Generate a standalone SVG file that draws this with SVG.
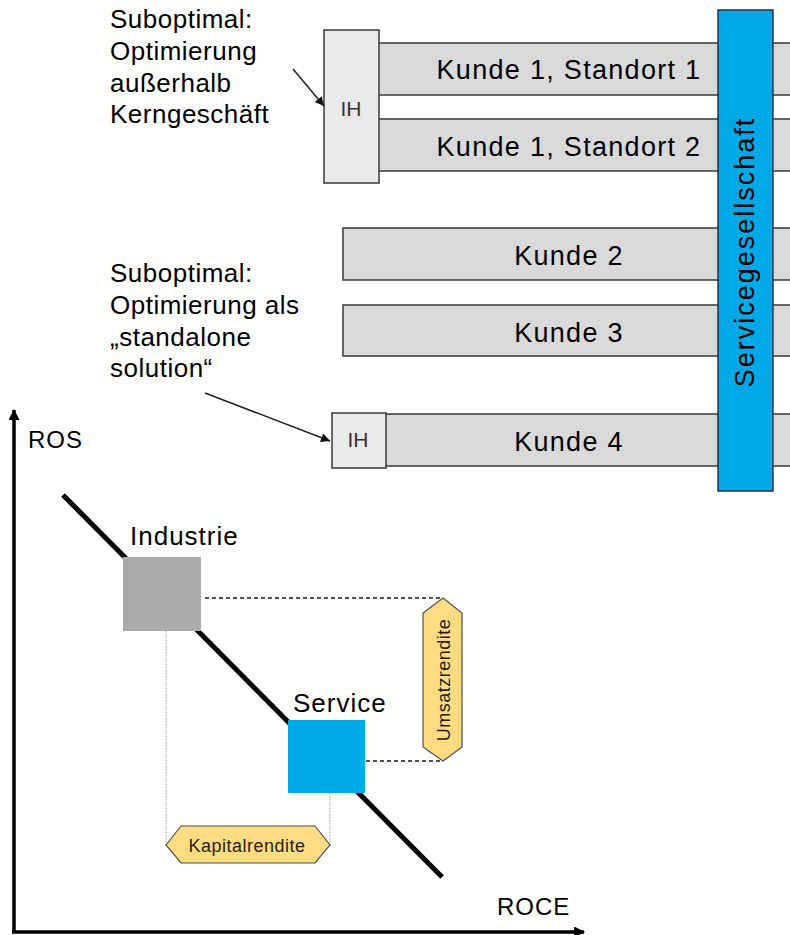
<svg xmlns="http://www.w3.org/2000/svg" width="790" height="935" viewBox="0 0 790 935">
  <style>
    text { font-family: "Liberation Sans", Arial, sans-serif; fill: #000; }
    .note { font-size: 26px; letter-spacing: 0.5px; }
    .bar { fill: #d9d9d9; stroke: #3a3a3a; stroke-width: 1.5; }
    .bar-label { font-size: 27px; letter-spacing: 1.3px; text-anchor: middle; }
    .ih { fill: #e8eaec; stroke: #3a3a3a; stroke-width: 1.5; }
    .ih-label { font-size: 21px; text-anchor: middle; fill: #3d3030; }
    .svc { fill: #00a8e6; stroke: #2a3338; stroke-width: 1.5; }
    .hex { fill: #ffdc82; stroke: #505050; stroke-width: 1.2; }
    .hex-label { font-size: 18px; letter-spacing: 0.5px; text-anchor: middle; fill: #2e1a12; }
    .lead { stroke: #222; stroke-width: 1.5; fill: none; }
    .axis { stroke: #000; stroke-width: 3.5; fill: none; }
    .trend { stroke: #000; stroke-width: 5; }
    .dash { stroke: #1a1a1a; stroke-width: 1.3; stroke-dasharray: 4 3; fill: none; }
    .dot { stroke: #9a9a9a; stroke-width: 1; stroke-dasharray: 1.5 1.5; fill: none; }
    .axis-label { font-size: 24px; letter-spacing: 1px; }
    .point-label { font-size: 26px; letter-spacing: 1px; }
  </style>
  <defs>
    <marker id="leadHead" viewBox="0 0 10 10" refX="10" refY="5" markerWidth="11" markerHeight="9" markerUnits="userSpaceOnUse" orient="auto">
      <path d="M0,0 L10,5 L0,10 Z" fill="#111"/>
    </marker>
    <marker id="axisHead" viewBox="0 0 10 10" refX="9" refY="5" markerWidth="13" markerHeight="11" markerUnits="userSpaceOnUse" orient="auto">
      <path d="M0,0 L10,5 L0,10 Z" fill="#000"/>
    </marker>
  </defs>

  <!-- customer bars -->
  <g id="kunde1-standort1">
    <rect class="bar" x="370" y="43" width="440" height="52"/>
    <text class="bar-label" x="569" y="79">Kunde 1, Standort 1</text>
  </g>
  <g id="kunde1-standort2">
    <rect class="bar" x="370" y="119" width="440" height="52"/>
    <text class="bar-label" x="569" y="156">Kunde 1, Standort 2</text>
  </g>
  <g id="kunde2">
    <rect class="bar" x="343" y="228" width="467" height="52"/>
    <text class="bar-label" x="569" y="265">Kunde 2</text>
  </g>
  <g id="kunde3">
    <rect class="bar" x="343" y="305" width="467" height="51"/>
    <text class="bar-label" x="569" y="342">Kunde 3</text>
  </g>
  <g id="kunde4">
    <rect class="bar" x="380" y="414" width="430" height="52"/>
    <text class="bar-label" x="569" y="451">Kunde 4</text>
  </g>

  <!-- in-house maintenance units -->
  <g id="ih1">
    <rect class="ih" x="324" y="30" width="55" height="153"/>
    <text class="ih-label" x="351" y="116">IH</text>
  </g>
  <g id="ih2">
    <rect class="ih" x="332" y="413" width="54" height="55"/>
    <text class="ih-label" x="358" y="447">IH</text>
  </g>

  <!-- service company spanning all customers -->
  <g id="servicegesellschaft">
    <rect class="svc" x="718" y="10" width="55" height="481"/>
    <text font-size="27" letter-spacing="2" text-anchor="middle" transform="translate(754,252) rotate(-90)">Servicegesellschaft</text>
  </g>

  <!-- annotations -->
  <g id="note-kerngeschaeft">
    <text class="note" x="110" y="28">Suboptimal:</text>
    <text class="note" x="110" y="60">Optimierung</text>
    <text class="note" x="110" y="92">außerhalb</text>
    <text class="note" x="110" y="123">Kerngeschäft</text>
  </g>
  <g id="note-standalone">
    <text class="note" x="110" y="282">Suboptimal:</text>
    <text class="note" x="110" y="314">Optimierung als</text>
    <text class="note" x="110" y="346">„standalone</text>
    <text class="note" x="110" y="377">solution“</text>
  </g>

  <g id="connectors">
    <line class="lead" x1="293" y1="69" x2="324" y2="106" marker-end="url(#leadHead)"/>
    <line class="lead" x1="205" y1="393" x2="330" y2="441" marker-end="url(#leadHead)"/>
  </g>

  <!-- ROS / ROCE chart -->
  <g id="chart-axes">
    <line class="axis" x1="14" y1="933" x2="14" y2="410" marker-end="url(#axisHead)"/>
    <line class="axis" x1="12" y1="932" x2="584" y2="932" marker-end="url(#axisHead)"/>
    <text class="axis-label" x="28" y="448">ROS</text>
    <text class="axis-label" x="497" y="915">ROCE</text>
  </g>

  <g id="trend-line">
    <line class="trend" x1="63" y1="495" x2="442" y2="877"/>
  </g>

  <g id="guides">
    <line class="dash" x1="205" y1="598" x2="443" y2="598"/>
    <line class="dash" x1="366" y1="761" x2="443" y2="761"/>
    <line class="dot" x1="166" y1="631" x2="166" y2="845"/>
    <line class="dot" x1="330" y1="793" x2="330" y2="845"/>
  </g>

  <g id="industrie">
    <rect x="123" y="557" width="78" height="74" fill="#ababab"/>
    <text class="point-label" x="130" y="545">Industrie</text>
  </g>
  <g id="service">
    <rect x="288" y="720" width="77" height="73" fill="#00a8e6"/>
    <text class="point-label" x="293" y="712">Service</text>
  </g>

  <g id="umsatzrendite">
    <polygon class="hex" points="443,598 462,613 462,747 443,761 423,747 423,613"/>
    <text class="hex-label" transform="translate(450,680) rotate(-90)">Umsatzrendite</text>
  </g>
  <g id="kapitalrendite">
    <polygon class="hex" points="166,845 181,826 315,826 330,845 315,863 181,863"/>
    <text class="hex-label" x="247" y="852">Kapitalrendite</text>
  </g>
</svg>
